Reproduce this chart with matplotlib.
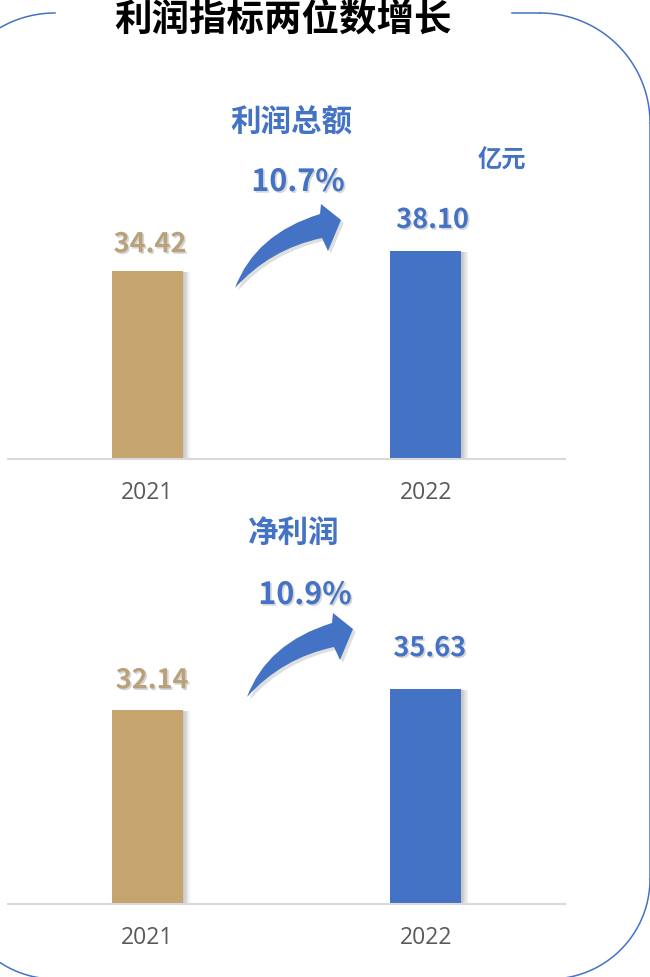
import numpy as np
import matplotlib
matplotlib.use("Agg")
import matplotlib.pyplot as plt
from matplotlib.path import Path
from matplotlib.patches import PathPatch
import matplotlib.patheffects as pe

plt.rcParams['font.family'] = ['Noto Sans CJK SC', 'DejaVu Sans']

# data
title = "利润指标两位数增长"
unit = "亿元"
years = ["2021", "2022"]
panel_names = ["利润总额", "净利润"]
total_profit = [34.42, 38.10]
net_profit = [32.14, 35.63]
growth = ["10.7%", "10.9%"]

GOLD = "#C5A46D"
GOLD_TXT = "#B9A27B"
BLUE = "#4472C4"
W, H = 650, 978

fig = plt.figure(figsize=(W / 100, H / 100), dpi=100)

# overlay in pixel coords for frame, arrows and free text
bg = fig.add_axes([0, 0, 1, 1], zorder=0)
bg.set_xlim(0, W)
bg.set_ylim(H, 0)
bg.axis("off")


def arc(cx, cy, r, t0, t1):
    t = np.radians(np.linspace(t0, t1, 80))
    return cx + r * np.cos(t), cy - r * np.sin(t)


# rounded frame (gap at top for title)
for cx, cy, r, t0, t1 in [(55, 124, 110, 90, 122), (540, 124, 110, 0, 90),
                          (550, 880, 100, -90, 0), (55, 880, 100, 236, 270)]:
    x, y = arc(cx, cy, r, t0, t1)
    bg.plot(x, y, color=BLUE, lw=1.1)
bg.plot([512, 540], [14, 14], color=BLUE, lw=1.1)
bg.plot([650, 650], [124, 880], color=BLUE, lw=1.1)

bg.text(283, 19, title, ha="center", va="center", fontsize=27,
        fontweight="bold", color="black")
bg.text(502, 161, unit, ha="center", va="center", fontsize=17.5,
        fontweight="bold", color=BLUE)


def curved_arrow(ox, oy):
    pts = [(0, 0), (20, -54), (85, -74), (86, -84), (106, -68), (93, -37),
           (87, -50), (35, -39), (0, 0)]
    codes = [Path.MOVETO, Path.CURVE3, Path.CURVE3, Path.LINETO, Path.LINETO,
             Path.LINETO, Path.LINETO, Path.CURVE3, Path.CURVE3]
    verts = [(ox + px, oy + py) for px, py in pts]
    patch = PathPatch(Path(verts, codes), facecolor=BLUE, edgecolor="none",
                      path_effects=[pe.SimplePatchShadow(offset=(2, -2), shadow_rgbFace="0.5", alpha=0.25),
                                    pe.Normal()])
    bg.add_patch(patch)


txt_shadow = [pe.SimplePatchShadow(offset=(1.2, -1.2), shadow_rgbFace="0.55", alpha=0.35), pe.Normal()]
bar_shadow = [pe.SimplePatchShadow(offset=(k, -0.5), shadow_rgbFace="0.45", alpha=0.09)
              for k in range(1, 6)] + [pe.Normal()]

# per panel layout: baseline y (px), ylim top, subtitle pos, growth pos, arrow origin, label offsets (pt)
panels = [
    dict(vals=total_profit, base=460, ytop=55.0, sub=(291, 122), pct=(298, 183),
         arrow=(235, 289), offs=[(2, 19.5), (5, 22.5)]),
    dict(vals=net_profit, base=905, ytop=49.75, sub=(294, 533), pct=(305, 596),
         arrow=(247, 698), offs=[(3.5, 21.5), (3, 29.5)]),
]

for i, p in enumerate(panels):
    ax = fig.add_axes([8 / W, (H - p["base"]) / H, 557 / W, 300 / H], zorder=2)
    ax.patch.set_alpha(0)
    bars = ax.bar([0, 1], p["vals"], width=0.255, color=[GOLD, BLUE])
    for b in bars:
        b.set_path_effects(bar_shadow)
    ax.set_xlim(-0.5, 1.5)
    ax.set_ylim(0, p["ytop"])
    ax.set_yticks([])
    ax.set_xticks([0, 1], years)
    ax.tick_params(axis="x", length=0, pad=15, labelsize=16.5, labelcolor="#595959")
    for lab in ax.get_xticklabels():
        lab.set_family("Open Sans")
    for s in ["left", "right", "top"]:
        ax.spines[s].set_visible(False)
    ax.spines["bottom"].set_color("#D9D9D9")
    ax.spines["bottom"].set_linewidth(1.5)
    for j, v in enumerate(p["vals"]):
        ax.annotate(f"{v:.2f}", (j, v), xytext=p["offs"][j], textcoords="offset points",
                    ha="center", va="center", fontsize=19.5, fontweight="bold",
                    color=GOLD_TXT if j == 0 else BLUE, path_effects=txt_shadow)

    bg.text(*p["sub"], panel_names[i], ha="center", va="center", fontsize=22,
            fontweight="bold", color=BLUE)
    bg.text(*p["pct"], growth[i], ha="center", va="center", fontsize=22,
            fontweight="bold", color=BLUE, path_effects=txt_shadow)
    curved_arrow(*p["arrow"])

fig.savefig("out.png", dpi=100)
